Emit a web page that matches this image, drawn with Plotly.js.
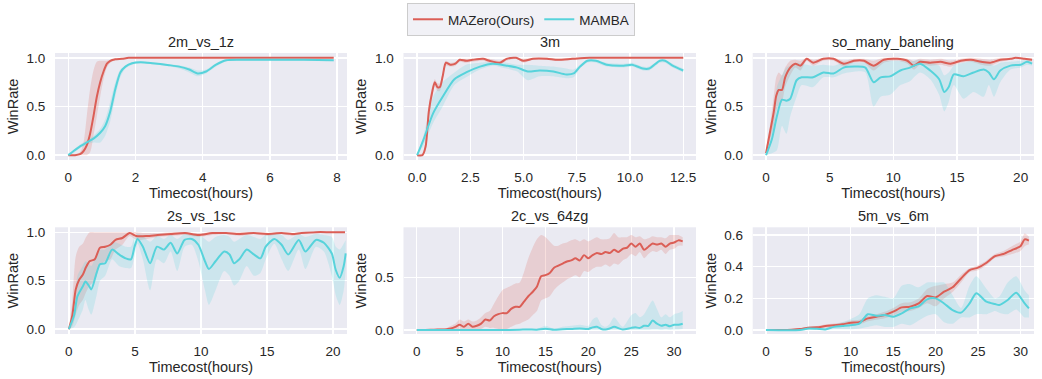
<!DOCTYPE html>
<html>
<head>
<meta charset="utf-8">
<script src="https://cdn.plot.ly/plotly-3.0.1.min.js"></script>
<style>html,body{margin:0;padding:0;background:#fff;}#chart{width:1042px;height:379px;}</style>
</head>
<body>
<div id="chart"></div>
<script>
// ---------------- DATA ----------------
const panelTitles = ["2m_vs_1z", "3m", "so_many_baneling", "2s_vs_1sc", "2c_vs_64zg", "5m_vs_6m"];
const seriesNames = ["MAZero(Ours)", "MAMBA"];

// 2m_vs_1z
const p1RedX = [0, 0.2, 0.35, 0.45, 0.55, 0.65, 0.75, 0.85, 0.95, 1.05, 1.15, 1.25, 1.4, 1.6, 1.8, 2.5, 4, 6, 7.9];
const p1Red = [0, 0, 0.01, 0.04, 0.1, 0.22, 0.4, 0.6, 0.75, 0.86, 0.94, 0.97, 0.985, 0.99, 1.0, 1.0, 1.0, 1.0, 1.0];
const p1RedUp = [0, 0.01, 0.03, 0.12, 0.4, 0.68, 0.87, 0.96, 0.97, 0.97, 0.97, 0.98, 0.99, 0.995, 1.0, 1.0, 1.0, 1.0, 1.0];
const p1RedLo = [0, 0, 0, 0, 0, 0.03, 0.2, 0.4, 0.6, 0.78, 0.9, 0.95, 0.975, 0.985, 1.0, 1.0, 1.0, 1.0, 1.0];
const p1CyanX = [0, 0.15, 0.35, 0.55, 0.75, 0.95, 1.1, 1.25, 1.4, 1.55, 1.7, 1.9, 2.15, 2.5, 3.0, 3.3, 3.6, 3.85, 4.1, 4.4, 4.7, 5.2, 6, 7, 7.9];
const p1Cyan = [0, 0.04, 0.09, 0.13, 0.17, 0.23, 0.3, 0.45, 0.68, 0.85, 0.91, 0.945, 0.955, 0.945, 0.925, 0.91, 0.88, 0.84, 0.86, 0.93, 0.975, 0.98, 0.98, 0.98, 0.975];
const p1CyanUp = [0, 0.05, 0.11, 0.15, 0.2, 0.27, 0.37, 0.55, 0.75, 0.88, 0.92, 0.955, 0.965, 0.955, 0.935, 0.925, 0.9, 0.87, 0.88, 0.945, 0.985, 0.99, 0.99, 0.985, 0.985];
const p1CyanLo = [0, 0.02, 0.07, 0.11, 0.13, 0.13, 0.2, 0.35, 0.6, 0.8, 0.89, 0.93, 0.945, 0.935, 0.915, 0.89, 0.85, 0.81, 0.84, 0.91, 0.965, 0.97, 0.97, 0.97, 0.965];

// 3m
const p2RedX = [0, 0.25, 0.4, 0.55, 0.7, 0.83, 0.95, 1.07, 1.2, 1.35, 1.55, 1.8, 2.0, 2.3, 2.6, 3.1, 3.4, 3.9, 4.2, 4.65, 5.0, 5.45, 6.1, 6.6, 7.3, 8.1, 9, 10, 11, 12.5];
const p2Red = [0, 0.0, 0.09, 0.45, 0.64, 0.75, 0.7, 0.7, 0.81, 0.95, 0.93, 0.94, 0.98, 0.97, 0.98, 0.99, 0.97, 0.95, 0.99, 1.0, 0.97, 0.99, 0.99, 0.98, 0.99, 1.0, 1.0, 1.0, 1.0, 1.0];
const p2RedUp = [0, 0.02, 0.15, 0.52, 0.7, 0.78, 0.74, 0.74, 0.85, 0.97, 0.95, 0.96, 0.99, 0.99, 0.99, 1.0, 0.99, 0.97, 1.0, 1.0, 0.99, 1.0, 1.0, 0.99, 1.0, 1.0, 1.0, 1.0, 1.0, 1.0];
const p2RedLo = [0, 0, 0.04, 0.38, 0.58, 0.71, 0.66, 0.66, 0.77, 0.92, 0.91, 0.92, 0.96, 0.95, 0.96, 0.97, 0.95, 0.93, 0.97, 0.99, 0.95, 0.98, 0.98, 0.97, 0.98, 1.0, 1.0, 1.0, 1.0, 1.0];
const p2CyanX = [0, 0.3, 0.75, 1.2, 1.75, 2.3, 2.95, 3.55, 4.2, 4.7, 5.2, 5.75, 6.4, 7.0, 7.35, 7.65, 8.0, 8.4, 8.9, 9.7, 10.1, 10.6, 10.9, 11.4, 11.65, 12.0, 12.5];
const p2Cyan = [0, 0.16, 0.43, 0.6, 0.78, 0.85, 0.91, 0.94, 0.92, 0.9, 0.86, 0.87, 0.86, 0.83, 0.84, 0.91, 0.97, 0.97, 0.93, 0.92, 0.93, 0.89, 0.89, 0.97, 0.97, 0.92, 0.87];
const p2CyanUp = [0, 0.2, 0.6, 0.75, 0.85, 0.93, 0.95, 0.96, 0.95, 0.93, 0.93, 0.92, 0.91, 0.89, 0.88, 0.93, 0.98, 0.98, 0.95, 0.94, 0.95, 0.91, 0.91, 0.98, 0.98, 0.94, 0.89];
const p2CyanLo = [0, 0.1, 0.33, 0.5, 0.72, 0.8, 0.88, 0.92, 0.89, 0.86, 0.77, 0.81, 0.81, 0.79, 0.8, 0.89, 0.95, 0.95, 0.91, 0.9, 0.91, 0.87, 0.87, 0.95, 0.95, 0.9, 0.85];

// so_many_baneling
const p3RedX = [0, 0.3, 0.6, 0.8, 1.0, 1.25, 1.5, 1.9, 2.3, 2.7, 3.2, 3.7, 4.5, 5.3, 6.1, 6.9, 7.7, 8.45, 9.25, 10.3, 11.1, 11.6, 12.1, 12.9, 13.7, 14.5, 15.3, 16.1, 16.9, 17.6, 18.4, 19.2, 19.6, 20.3, 20.9];
const p3Red = [0.02, 0.23, 0.44, 0.61, 0.67, 0.67, 0.8, 0.9, 0.94, 0.92, 0.99, 0.95, 0.99, 0.99, 0.94, 0.97, 0.97, 0.92, 0.98, 0.99, 0.97, 0.92, 0.96, 0.95, 0.96, 0.94, 0.97, 0.98, 0.96, 0.95, 0.98, 0.99, 1.0, 0.99, 0.98];
const p3RedUp = [0.06, 0.3, 0.6, 0.8, 0.85, 0.82, 0.9, 0.97, 0.98, 0.97, 1.0, 0.98, 1.0, 1.0, 0.97, 0.99, 0.99, 0.97, 1.0, 1.0, 0.99, 0.97, 0.99, 0.98, 0.99, 0.97, 0.99, 1.0, 0.99, 0.98, 1.0, 1.0, 1.0, 1.0, 0.99];
const p3RedLo = [0.0, 0.15, 0.3, 0.45, 0.52, 0.55, 0.7, 0.82, 0.9, 0.87, 0.97, 0.92, 0.97, 0.97, 0.91, 0.95, 0.95, 0.87, 0.95, 0.97, 0.94, 0.88, 0.93, 0.92, 0.93, 0.91, 0.95, 0.96, 0.93, 0.92, 0.96, 0.98, 0.99, 0.98, 0.96];
const p3CyanX = [0, 0.45, 0.85, 1.25, 1.6, 1.9, 2.4, 2.8, 3.7, 4.5, 5.3, 6.1, 7.1, 7.8, 8.45, 9.0, 9.75, 10.55, 11.3, 12.1, 12.9, 13.6, 14.0, 14.35, 14.75, 15.5, 16.3, 17.1, 17.5, 17.9, 18.4, 19.2, 20.0, 20.5, 20.9];
const p3Cyan = [0, 0.16, 0.4, 0.57, 0.56, 0.58, 0.77, 0.8, 0.8, 0.85, 0.84, 0.9, 0.91, 0.9, 0.75, 0.8, 0.81, 0.87, 0.9, 0.94, 0.87, 0.78, 0.65, 0.7, 0.83, 0.81, 0.85, 0.88, 0.85, 0.78, 0.87, 0.92, 0.93, 0.96, 0.94];
const p3CyanUp = [0, 0.3, 0.7, 0.82, 0.9, 0.92, 0.95, 0.94, 0.92, 0.93, 0.92, 0.95, 0.95, 0.95, 0.92, 0.96, 0.97, 0.97, 0.96, 0.98, 0.95, 0.92, 0.82, 0.85, 0.92, 0.95, 0.97, 0.97, 0.95, 0.92, 0.95, 0.96, 0.97, 0.98, 0.96];
const p3CyanLo = [0, 0.02, 0.05, 0.3, 0.22, 0.4, 0.6, 0.72, 0.7, 0.8, 0.8, 0.84, 0.86, 0.85, 0.5, 0.6, 0.62, 0.72, 0.76, 0.85, 0.78, 0.62, 0.45, 0.55, 0.72, 0.58, 0.65, 0.6, 0.72, 0.6, 0.75, 0.88, 0.9, 0.93, 0.92];

// 2s_vs_1sc
const p4RedX = [0, 0.26, 0.52, 0.78, 1.05, 1.3, 1.57, 1.96, 2.35, 2.75, 3.14, 3.53, 4.05, 4.6, 5.1, 5.9, 6.7, 7.7, 8.8, 9.8, 10.85, 11.9, 12.9, 14.0, 15.0, 16.1, 16.9, 17.6, 18.7, 19.8, 20.9];
const p4Red = [0, 0.14, 0.41, 0.51, 0.56, 0.64, 0.7, 0.72, 0.84, 0.85, 0.87, 0.92, 0.94, 0.99, 0.96, 0.96, 0.97, 0.98, 0.99, 0.97, 0.99, 0.99, 0.98, 0.99, 0.98, 0.99, 0.98, 0.99, 1.0, 1.0, 1.0];
const p4RedUp = [0, 0.3, 0.75, 0.85, 0.88, 0.95, 1.0, 1.0, 1.0, 1.0, 1.0, 1.0, 1.0, 1.0, 1.0, 0.99, 0.99, 1.0, 1.0, 0.99, 1.0, 1.0, 1.0, 1.0, 0.99, 1.0, 0.99, 1.0, 1.0, 1.0, 1.0];
const p4RedLo = [0, 0.03, 0.15, 0.25, 0.3, 0.38, 0.45, 0.5, 0.65, 0.7, 0.72, 0.82, 0.87, 0.96, 0.92, 0.93, 0.95, 0.96, 0.97, 0.95, 0.97, 0.98, 0.96, 0.98, 0.96, 0.98, 0.96, 0.98, 0.99, 0.99, 0.99];
const p4CyanX = [0, 0.39, 0.65, 1.05, 1.25, 1.5, 1.7, 2.1, 2.35, 2.75, 3.27, 3.8, 4.3, 4.7, 4.97, 5.2, 5.6, 6.15, 6.67, 7.2, 7.7, 8.2, 8.76, 9.3, 9.8, 10.3, 10.6, 11.1, 11.76, 12.16, 12.5, 12.9, 13.46, 14.0, 14.5, 14.9, 15.55, 16.1, 16.6, 17.4, 17.9, 18.7, 19.3, 19.9, 20.2, 20.5, 20.8, 20.95];
const p4Cyan = [0, 0.14, 0.34, 0.44, 0.49, 0.45, 0.41, 0.58, 0.67, 0.68, 0.82, 0.77, 0.73, 0.72, 0.85, 0.93, 0.85, 0.68, 0.85, 0.82, 0.89, 0.78, 0.92, 0.93, 0.87, 0.7, 0.62, 0.7, 0.8, 0.77, 0.68, 0.72, 0.82, 0.77, 0.73, 0.85, 0.93, 0.87, 0.77, 0.92, 0.8, 0.92, 0.89, 0.78, 0.61, 0.53, 0.65, 0.78];
const p4CyanUp = [0, 0.25, 0.55, 0.65, 0.7, 0.68, 0.65, 0.78, 0.82, 0.82, 0.9, 0.88, 0.85, 0.85, 0.95, 0.98, 0.96, 0.9, 0.96, 0.93, 0.97, 0.93, 0.98, 0.98, 0.97, 0.93, 0.9, 0.95, 0.97, 0.95, 0.9, 0.93, 0.97, 0.95, 0.93, 0.97, 0.98, 0.97, 0.92, 0.98, 0.95, 0.98, 0.97, 0.95, 0.85, 0.82, 0.88, 0.92];
const p4CyanLo = [0, 0.02, 0.08, 0.2, 0.3, 0.2, 0.15, 0.35, 0.5, 0.55, 0.72, 0.65, 0.63, 0.63, 0.75, 0.88, 0.72, 0.4, 0.72, 0.68, 0.8, 0.6, 0.85, 0.87, 0.7, 0.4, 0.25, 0.4, 0.6, 0.55, 0.45, 0.5, 0.65, 0.55, 0.58, 0.72, 0.88, 0.72, 0.6, 0.82, 0.62, 0.85, 0.8, 0.55, 0.35, 0.25, 0.4, 0.62];

// 2c_vs_64zg
const p5RedX = [0, 1, 2, 3, 3.5, 4, 4.5, 5, 5.5, 6, 6.5, 7, 7.5, 8, 8.5, 9, 9.5, 10, 10.5, 11, 11.5, 12, 12.5, 13, 13.5, 14, 14.5, 15, 15.5, 16, 16.5, 17, 17.5, 18, 18.5, 19, 19.5, 20, 20.5, 21, 21.5, 22, 22.5, 23, 23.5, 24, 24.5, 25, 25.5, 26, 26.5, 27, 27.5, 28, 28.5, 29, 29.5, 30, 30.5, 31];
const p5Red = [0, 0, 0.003, 0.005, 0.008, 0.015, 0.03, 0.05, 0.03, 0.06, 0.03, 0.04, 0.06, 0.1, 0.09, 0.13, 0.15, 0.16, 0.16, 0.2, 0.22, 0.22, 0.27, 0.32, 0.36, 0.41, 0.51, 0.52, 0.54, 0.59, 0.61, 0.63, 0.65, 0.66, 0.68, 0.66, 0.71, 0.68, 0.71, 0.73, 0.72, 0.74, 0.73, 0.76, 0.74, 0.77, 0.78, 0.82, 0.79, 0.82, 0.76, 0.79, 0.82, 0.81, 0.82, 0.79, 0.82, 0.83, 0.85, 0.84];
const p5RedUp = [0, 0.002, 0.01, 0.015, 0.02, 0.04, 0.06, 0.1, 0.08, 0.1, 0.08, 0.09, 0.12, 0.16, 0.18, 0.25, 0.32, 0.38, 0.4, 0.42, 0.44, 0.45, 0.55, 0.68, 0.78, 0.86, 0.9, 0.88, 0.84, 0.8, 0.8, 0.82, 0.83, 0.85, 0.86, 0.84, 0.86, 0.84, 0.86, 0.88, 0.86, 0.86, 0.87, 0.92, 0.88, 0.88, 0.88, 0.9, 0.88, 0.89, 0.86, 0.87, 0.89, 0.88, 0.88, 0.87, 0.9, 0.9, 0.9, 0.88];
const p5RedLo = [0, 0, 0, 0, 0, 0, 0, 0.01, 0, 0.01, 0, 0, 0.01, 0.03, 0.02, 0.02, 0.01, 0, 0.01, 0.03, 0.05, 0.06, 0.08, 0.1, 0.14, 0.18, 0.28, 0.3, 0.32, 0.38, 0.42, 0.45, 0.48, 0.5, 0.52, 0.5, 0.56, 0.55, 0.58, 0.6, 0.6, 0.62, 0.6, 0.63, 0.62, 0.66, 0.68, 0.72, 0.7, 0.74, 0.68, 0.72, 0.75, 0.74, 0.76, 0.72, 0.76, 0.77, 0.8, 0.8];
const p5CyanX = [0, 5, 10, 12, 13, 14, 15, 16, 17, 18, 19, 20, 20.5, 21, 21.5, 22, 22.5, 23, 24, 25, 25.5, 26, 26.5, 27, 27.5, 28, 28.5, 29, 29.5, 30, 30.5, 31];
const p5Cyan = [0, 0, 0, 0.003, 0.005, 0.003, 0.012, 0.002, 0.008, 0.01, 0.015, 0.01, 0.025, 0.03, 0.01, 0.005, 0.015, 0.03, 0.005, 0.02, 0.025, 0.02, 0.04, 0.04, 0.09, 0.06, 0.04, 0.05, 0.035, 0.05, 0.05, 0.06];
const p5CyanUp = [0, 0.002, 0.005, 0.01, 0.015, 0.01, 0.04, 0.01, 0.03, 0.04, 0.05, 0.04, 0.1, 0.12, 0.05, 0.03, 0.06, 0.12, 0.03, 0.14, 0.16, 0.12, 0.15, 0.22, 0.28, 0.2, 0.12, 0.15, 0.12, 0.15, 0.16, 0.18];
const p5CyanLo = [0, 0, 0, 0, 0, 0, 0, 0, 0, 0, 0, 0, 0, 0, 0, 0, 0, 0, 0, 0, 0, 0, 0, 0, 0.005, 0.005, 0, 0.005, 0, 0.005, 0.005, 0.01];

// 5m_vs_6m
const p6RedX = [0, 2, 3, 4, 5, 6, 7, 8, 9, 10, 11, 12, 13, 14, 15, 16, 17, 18, 19, 20, 21, 22, 23, 24, 25, 26, 27, 28, 29, 30, 30.5, 31];
const p6Red = [0, 0, 0.002, 0.006, 0.015, 0.017, 0.025, 0.03, 0.036, 0.046, 0.05, 0.074, 0.084, 0.095, 0.116, 0.143, 0.147, 0.168, 0.215, 0.206, 0.242, 0.27, 0.326, 0.379, 0.394, 0.425, 0.467, 0.48, 0.505, 0.53, 0.573, 0.565];
const p6RedUp = [0, 0, 0.004, 0.01, 0.022, 0.026, 0.035, 0.042, 0.048, 0.06, 0.065, 0.09, 0.1, 0.115, 0.14, 0.17, 0.175, 0.2, 0.26, 0.28, 0.29, 0.3, 0.35, 0.39, 0.41, 0.44, 0.48, 0.5, 0.53, 0.56, 0.61, 0.59];
const p6RedLo = [0, 0, 0, 0.002, 0.008, 0.01, 0.015, 0.02, 0.025, 0.032, 0.035, 0.055, 0.065, 0.075, 0.09, 0.115, 0.12, 0.14, 0.17, 0.15, 0.2, 0.24, 0.3, 0.365, 0.378, 0.41, 0.455, 0.465, 0.48, 0.5, 0.53, 0.54];
const p6CyanX = [0, 4, 5, 6, 7, 8, 9, 10, 11, 12, 13, 14, 15, 16, 17, 18, 19, 20, 21, 22, 23, 24, 24.8, 26, 27, 27.5, 28.5, 29.5, 30.5, 31];
const p6Cyan = [0, 0, 0.01, 0.008, 0.004, 0.02, 0.025, 0.03, 0.04, 0.1, 0.09, 0.095, 0.084, 0.105, 0.137, 0.15, 0.194, 0.2, 0.168, 0.126, 0.11, 0.168, 0.232, 0.179, 0.164, 0.158, 0.19, 0.236, 0.168, 0.137];
const p6CyanUp = [0, 0.002, 0.02, 0.02, 0.015, 0.035, 0.05, 0.07, 0.1, 0.2, 0.22, 0.21, 0.2, 0.28, 0.29, 0.27, 0.3, 0.3, 0.3, 0.22, 0.14, 0.28, 0.34, 0.26, 0.2, 0.21, 0.3, 0.34, 0.25, 0.22];
const p6CyanLo = [0, 0, 0, 0, 0, 0.005, 0.005, 0.005, 0.01, 0.02, 0.03, 0.02, 0.02, 0.04, 0.03, 0.06, 0.09, 0.1, 0.05, 0.04, 0.08, 0.08, 0.1, 0.1, 0.12, 0.11, 0.1, 0.13, 0.08, 0.08];

// tick values
const xTicks = [[0, 2, 4, 6, 8], [0, 2.5, 5, 7.5, 10, 12.5], [0, 5, 10, 15, 20], [0, 5, 10, 15, 20], [0, 5, 10, 15, 20, 25, 30], [0, 5, 10, 15, 20, 25, 30]];
const xTickText = [["0", "2", "4", "6", "8"], ["0.0", "2.5", "5.0", "7.5", "10.0", "12.5"], ["0", "5", "10", "15", "20"], ["0", "5", "10", "15", "20"], ["0", "5", "10", "15", "20", "25", "30"], ["0", "5", "10", "15", "20", "25", "30"]];
const yTicks = [[0, 0.5, 1], [0, 0.5, 1], [0, 0.5, 1], [0, 0.5, 1], [0, 0.5], [0, 0.2, 0.4, 0.6]];
const yTickText = [["0.0", "0.5", "1.0"], ["0.0", "0.5", "1.0"], ["0.0", "0.5", "1.0"], ["0.0", "0.5", "1.0"], ["0.0", "0.5"], ["0.0", "0.2", "0.4", "0.6"]];

// ---------------- STYLE ----------------
const RED = "#db5e56", CYAN = "#57d3db";
const RED_FILL = "rgba(219,94,86,0.2)", CYAN_FILL = "rgba(87,211,219,0.2)";
const FONT = "Liberation Sans, Arial, Helvetica, sans-serif";
const TXT = "#262626";

const panels = [
  [p1RedX, p1Red, p1RedUp, p1RedLo, p1CyanX, p1Cyan, p1CyanUp, p1CyanLo],
  [p2RedX, p2Red, p2RedUp, p2RedLo, p2CyanX, p2Cyan, p2CyanUp, p2CyanLo],
  [p3RedX, p3Red, p3RedUp, p3RedLo, p3CyanX, p3Cyan, p3CyanUp, p3CyanLo],
  [p4RedX, p4Red, p4RedUp, p4RedLo, p4CyanX, p4Cyan, p4CyanUp, p4CyanLo],
  [p5RedX, p5Red, p5RedUp, p5RedLo, p5CyanX, p5Cyan, p5CyanUp, p5CyanLo],
  [p6RedX, p6Red, p6RedUp, p6RedLo, p6CyanX, p6Cyan, p6CyanUp, p6CyanLo]
];

const W = 1042, H = 379;
const colPx = [[55, 347], [403.5, 696], [752.7, 1034]];
const rowPx = [[53, 160], [227.3, 334]];
const xRanges = [[-0.395, 8.295], [-0.64, 13.1], [-1.05, 21.05], [-1.05, 21.05], [-1.55, 32.55], [-1.57, 31.6]];
const yRanges = [[-0.05, 1.05], [-0.05, 1.05], [-0.05, 1.05], [-0.05, 1.05], [-0.038, 0.974], [-0.025, 0.649]];

const traces = [];
const layout = {
  width: W, height: H,
  margin: {l: 0, r: 0, t: 0, b: 0},
  paper_bgcolor: "#ffffff",
  plot_bgcolor: "#eaeaf2",
  font: {family: FONT, size: 13, color: TXT},
  showlegend: true,
  legend: {
    orientation: "h", x: 0.5, xanchor: "center", y: 1 - 3 / H, yanchor: "top",
    bgcolor: "rgba(240,240,245,0.9)", bordercolor: "#cccccc", borderwidth: 1,
    font: {family: FONT, size: 13.5, color: TXT}, itemwidth: 30, traceorder: "normal",
    tracegroupgap: 0
  },
  annotations: [],
  hovermode: false
};

panels.forEach((p, i) => {
  const sfx = i === 0 ? "" : String(i + 1);
  const xa = "x" + sfx, ya = "y" + sfx;
  const col = i % 3, row = Math.floor(i / 3);
  const common = {xaxis: xa, yaxis: ya, mode: "lines", hoverinfo: "skip", showlegend: false};
  const [rx, r, ru, rl, cx, c, cu, cl] = p;
  const sp = {shape: "spline", smoothing: 0.7};
  traces.push(Object.assign({}, common, {x: rx, y: ru, line: Object.assign({width: 0, color: RED}, sp)}));
  traces.push(Object.assign({}, common, {x: rx, y: rl, fill: "tonexty", fillcolor: RED_FILL, line: Object.assign({width: 0, color: RED}, sp)}));
  traces.push(Object.assign({}, common, {x: cx, y: cu, line: Object.assign({width: 0, color: CYAN}, sp)}));
  traces.push(Object.assign({}, common, {x: cx, y: cl, fill: "tonexty", fillcolor: CYAN_FILL, line: Object.assign({width: 0, color: CYAN}, sp)}));
  traces.push(Object.assign({}, common, {x: rx, y: r, name: seriesNames[0], showlegend: i === 0, line: Object.assign({width: 2, color: RED}, sp)}));
  traces.push(Object.assign({}, common, {x: cx, y: c, name: seriesNames[1], showlegend: i === 0, line: Object.assign({width: 2, color: CYAN}, sp)}));

  const xd = [colPx[col][0] / W, colPx[col][1] / W];
  const yd = [1 - rowPx[row][1] / H, 1 - rowPx[row][0] / H];
  layout["xaxis" + sfx] = {
    domain: xd, anchor: ya, range: xRanges[i],
    tickvals: xTicks[i], ticktext: xTickText[i],
    showgrid: true, gridcolor: "#ffffff", gridwidth: 1.3, zeroline: false,
    showline: false, ticks: "outside", ticklen: 5, tickcolor: "rgba(0,0,0,0)",
    tickfont: {size: 13.5, color: TXT, family: FONT},
    title: {text: "Timecost(hours)", font: {size: 14.5, color: TXT, family: FONT}, standoff: 2}
  };
  layout["yaxis" + sfx] = {
    domain: yd, anchor: xa, range: yRanges[i],
    tickvals: yTicks[i], ticktext: yTickText[i],
    showgrid: true, gridcolor: "#ffffff", gridwidth: 1.3, zeroline: false,
    showline: false, ticks: "outside", ticklen: 6, tickcolor: "rgba(0,0,0,0)",
    tickfont: {size: 13.5, color: TXT, family: FONT},
    title: {text: "WinRate", font: {size: 14.5, color: TXT, family: FONT}, standoff: 4}
  };
  layout.annotations.push({
    text: panelTitles[i], xref: "paper", yref: "paper",
    x: (xd[0] + xd[1]) / 2, y: yd[1], xanchor: "center", yanchor: "bottom", yshift: 1,
    showarrow: false, font: {size: 14.5, color: TXT, family: FONT}
  });
});

Plotly.newPlot("chart", traces, layout, {staticPlot: true, displayModeBar: false});
</script>
</body>
</html>
